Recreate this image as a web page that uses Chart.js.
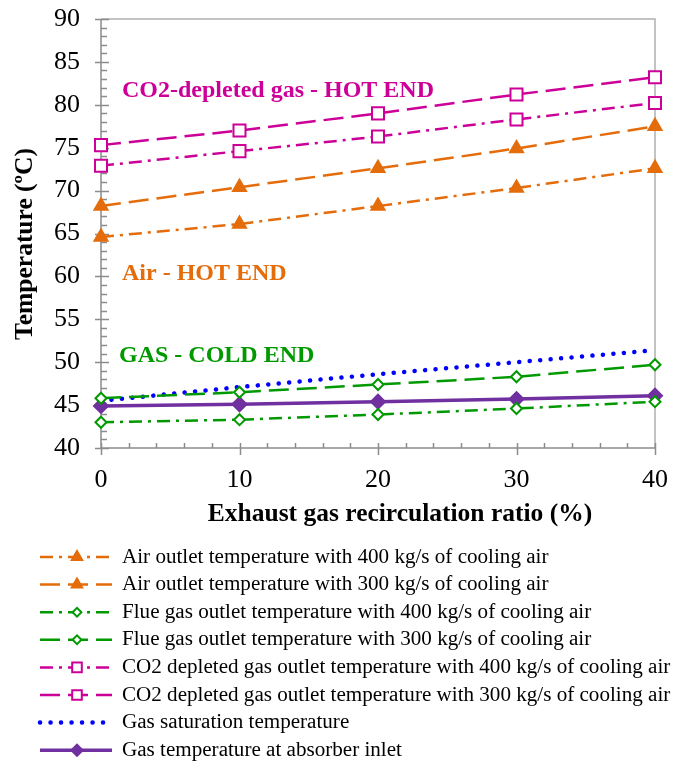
<!DOCTYPE html>
<html><head><meta charset="utf-8">
<script src="https://cdn.jsdelivr.net/npm/chart.js@4.4.1/dist/chart.umd.min.js"></script>
<style>html,body{margin:0;padding:0;background:#fff}#wrap{width:676px;height:765px;position:relative}</style>
</head><body><div id="wrap"><canvas id="c" width="676" height="765"></canvas></div>
<script>
// Exhaust gas recirculation ratio (%) and temperatures (ºC)
const egrRatio = [0, 10, 20, 30, 40];
const airOut400 = [64.6, 66.1, 68.2, 70.3, 72.6];
const airOut300 = [68.2, 70.4, 72.6, 74.9, 77.5];
const flueOut400 = [43.0, 43.3, 43.9, 44.6, 45.4];
const flueOut300 = [45.8, 46.5, 47.4, 48.3, 49.7];
const co2Out400 = [72.9, 74.6, 76.3, 78.3, 80.2];
const co2Out300 = [75.3, 77.0, 79.0, 81.2, 83.2];
const gasSaturation = [45.5, 47.1, 48.6, 50.0, 51.4];
const absorberInlet = [44.9, 45.1, 45.4, 45.7, 46.1];

const xTickValues = [0, 10, 20, 30, 40];
const yTickValues = [40, 45, 50, 55, 60, 65, 70, 75, 80, 85, 90];

const seriesNames = [
  'Air outlet temperature with 400 kg/s of cooling air',
  'Air outlet temperature with 300 kg/s of cooling air',
  'Flue gas outlet temperature with 400 kg/s of cooling air',
  'Flue gas outlet temperature with 300 kg/s of cooling air',
  'CO2 depleted gas outlet temperature with 400 kg/s of cooling air',
  'CO2 depleted gas outlet temperature with 300 kg/s of cooling air',
  'Gas saturation temperature',
  'Gas temperature at absorber inlet'
];

const annotations = [
  { text: 'CO2-depleted gas - HOT END', color: '#CC0099', x: 122, y: 91 },
  { text: 'Air - HOT END', color: '#E46C0A', x: 122, y: 274 },
  { text: 'GAS - COLD END', color: '#009900', x: 119, y: 356 }
];

const ORANGE = '#E46C0A', GREEN = '#009900', MAGENTA = '#CC0099', BLUE = '#0000FF', PURPLE = '#7030A0';
const DASH_DOT = [13, 6, 3, 6];
const LONG_DASH = [20, 8];

const pts = arr => egrRatio.map((x, i) => ({ x, y: arr[i] }));

function series(label, data, color, dash, pointStyle, radius, fill, width) {
  return {
    label, data: pts(data),
    borderColor: color, borderWidth: width || 2.5, borderDash: dash,
    pointStyle, pointRadius: radius, pointHoverRadius: radius,
    pointBackgroundColor: fill, pointBorderColor: color, pointBorderWidth: 2,
    tension: 0, fill: false, clip: false
  };
}

const datasets = [
  series(seriesNames[0], airOut400, ORANGE, DASH_DOT, 'triangle', 7.5, ORANGE),
  series(seriesNames[1], airOut300, ORANGE, LONG_DASH, 'triangle', 7.5, ORANGE),
  series(seriesNames[2], flueOut400, GREEN, DASH_DOT, 'rectRot', 5.5, '#fff'),
  series(seriesNames[3], flueOut300, GREEN, LONG_DASH, 'rectRot', 5.5, '#fff'),
  series(seriesNames[4], co2Out400, MAGENTA, DASH_DOT, 'rect', 8.5, '#fff'),
  series(seriesNames[5], co2Out300, MAGENTA, LONG_DASH, 'rect', 8.5, '#fff'),
  Object.assign(series(seriesNames[6], gasSaturation, BLUE, [0.1, 10.4], 'circle', 0, BLUE, 4.5), { borderCapStyle: 'round' }),
  series(seriesNames[7], absorberInlet, PURPLE, [], 'rectRot', 7, PURPLE, 3.5)
];

const AXIS = '#8C8C8C';
const SERIF = '"Liberation Serif", "Times New Roman", serif';

const frame = {
  id: 'frame',
  beforeDatasetsDraw(chart) {
    const { ctx, chartArea: a, scales: { x, y } } = chart;
    ctx.save();
    ctx.lineWidth = 1.5;
    ctx.strokeStyle = '#B0B0B0';
    ctx.beginPath();
    ctx.moveTo(a.left, a.top); ctx.lineTo(a.right, a.top); ctx.lineTo(a.right, a.bottom);
    ctx.stroke();
    ctx.strokeStyle = AXIS;
    ctx.beginPath();
    ctx.moveTo(a.left, a.top); ctx.lineTo(a.left, a.bottom); ctx.lineTo(a.right, a.bottom);
    // y ticks: major every 5, minor every 1
    for (let v = y.min; v <= y.max; v += 1) {
      const py = Math.round(y.getPixelForValue(v)) + 0.5;
      const major = v % 5 === 0;
      ctx.moveTo(a.left - (major ? 6 : 0), py);
      ctx.lineTo(a.left + (major ? 8 : 6), py);
    }
    // x ticks: major every 10, minor every 2
    for (let v = x.min; v <= x.max; v += 2) {
      const px = Math.round(x.getPixelForValue(v)) + 0.5;
      const major = v % 10 === 0;
      ctx.moveTo(px, a.bottom + (major ? 7 : 0));
      ctx.lineTo(px, a.bottom - 5);
    }
    ctx.stroke();

    // text labels inside the plot
    ctx.font = 'bold 24px ' + SERIF;
    ctx.textBaseline = 'middle';
    ctx.textAlign = 'left';
    annotations.forEach(t => { ctx.fillStyle = t.color; ctx.fillText(t.text, t.x, t.y); });
    ctx.restore();
  },
  afterDraw(chart) {
    const { ctx } = chart;
    ctx.save();
    // axis titles
    ctx.fillStyle = '#000';
    ctx.font = 'bold 25.5px ' + SERIF;
    ctx.textAlign = 'center';
    ctx.textBaseline = 'middle';
    ctx.fillText('Exhaust gas recirculation ratio (%)', 400, 514);
    ctx.translate(25, 244);
    ctx.rotate(-Math.PI / 2);
    ctx.fillText('Temperature (ºC)', 0, 0);
    ctx.restore();

    // legend
    ctx.save();
    const rowY0 = 557, rowH = 27.6;
    chart.data.datasets.forEach((ds, i) => {
      const yy = rowY0 + i * rowH;
      ctx.save();
      ctx.strokeStyle = ds.borderColor;
      ctx.lineWidth = ds.borderWidth;
      ctx.lineCap = ds.borderCapStyle || 'butt';
      ctx.setLineDash(ds.borderDash || []);
      ctx.beginPath();
      ctx.moveTo(40, yy); ctx.lineTo(112, yy);
      ctx.stroke();
      ctx.setLineDash([]);
      if (ds.pointRadius > 0) {
        ctx.fillStyle = ds.pointBackgroundColor;
        ctx.strokeStyle = ds.pointBorderColor;
        ctx.lineWidth = ds.pointBorderWidth;
        Chart.helpers.drawPoint(ctx, { pointStyle: ds.pointStyle, radius: ds.pointRadius * 0.8, borderWidth: ds.pointBorderWidth, rotation: 0 }, 77, yy);
      }
      ctx.restore();
      ctx.fillStyle = '#000';
      ctx.font = '21.1px ' + SERIF;
      ctx.textAlign = 'left';
      ctx.textBaseline = 'middle';
      ctx.fillText(ds.label, 122, yy);
    });
    ctx.restore();
  }
};

new Chart(document.getElementById('c'), {
  type: 'line',
  data: { datasets },
  options: {
    responsive: false,
    animation: false,
    events: [],
    layout: { padding: { left: 0, top: 19, right: 21, bottom: 237 } },
    plugins: { legend: { display: false }, tooltip: { enabled: false } },
    scales: {
      x: {
        type: 'linear', min: 0, max: 40,
        afterBuildTicks: s => { s.ticks = xTickValues.map(v => ({ value: v })); },
        afterFit: s => { s.height = 80; s.paddingLeft = 0; s.paddingRight = 0; },
        grid: { display: false, drawTicks: false }, border: { display: false },
        ticks: { color: '#000', font: { family: SERIF, size: 26 }, padding: 17, maxRotation: 0 }
      },
      y: {
        type: 'linear', min: 40, max: 90,
        afterBuildTicks: s => { s.ticks = yTickValues.map(v => ({ value: v })); },
        afterFit: s => { s.width = 101; s.paddingTop = 0; s.paddingBottom = 0; },
        grid: { display: false, drawTicks: false }, border: { display: false },
        ticks: { color: '#000', font: { family: SERIF, size: 26 }, padding: 21 }
      }
    }
  },
  plugins: [frame]
});
</script></body></html>
